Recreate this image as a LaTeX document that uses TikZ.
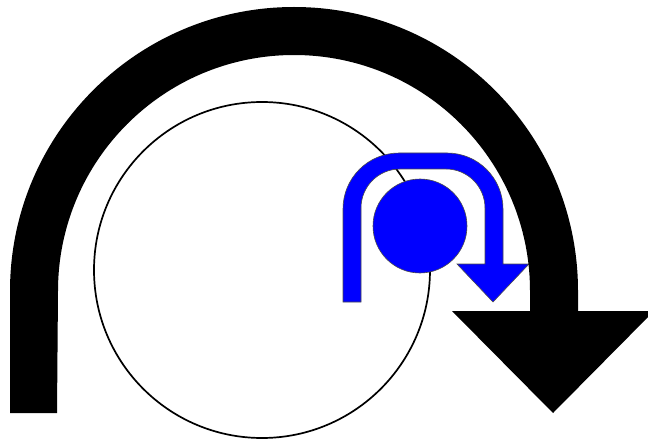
\documentclass[tikz,border=0pt]{standalone}
\usetikzlibrary{positioning}
\begin{document}
\begin{tikzpicture}[x=1pt,y=-1pt,
    blueshape/.style={fill=blue, draw=black!70, line width=0.6pt},
    bigband/.style={fill=black}]
  \useasboundingbox (0,0) rectangle (648,441);
  \clip (0,0) rectangle (648,441);
  \coordinate (wheel) at (262,270);
  \coordinate (ball) at (420,226);
  % large circle
  \draw[line width=1.7pt] (wheel) circle[radius=168];
  % small blue arrow over the ball
  \path[blueshape] (343,302) [rounded corners=56pt] -- (343,153) -- (503,153) [sharp corners] -- (503,264) -- (529,264) -- (493,302) -- (457,264) -- (485,264) [rounded corners=39pt] -- (485,169) -- (361,169) [sharp corners] -- (361,302) -- cycle;
  \draw[blueshape] (ball) circle[radius=47];
  % large black arrow
  \fill[bigband] (10,413) -- (10,291) arc[start angle=180, end angle=360, radius=284] -- (578,311) -- (654,311) -- (553,413) -- (452,311) -- (530,311) -- (530,291) arc[start angle=360, end angle=180, radius=236] -- (57,413) -- cycle;
\end{tikzpicture}
\end{document}
